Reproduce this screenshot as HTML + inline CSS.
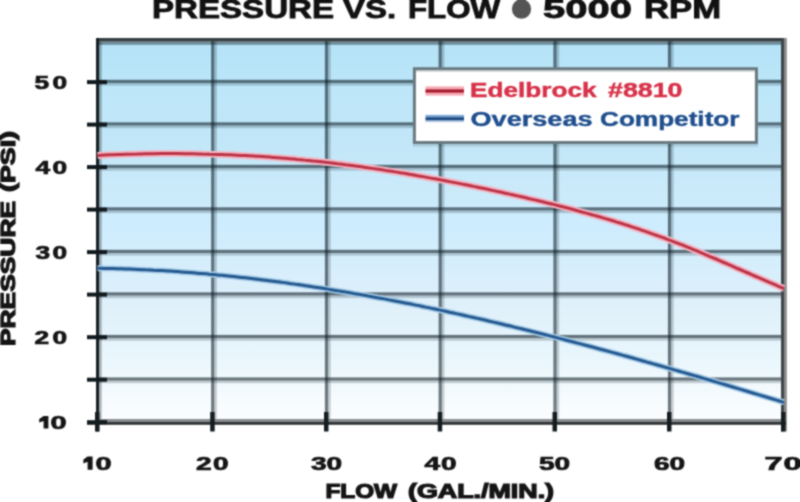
<!DOCTYPE html>
<html><head><meta charset="utf-8">
<style>
html,body{margin:0;padding:0;background:#fff;}
body{width:800px;height:502px;overflow:hidden;}
svg{display:block;}
text{font-family:"Liberation Sans",sans-serif;font-weight:bold;}
</style></head>
<body>
<svg width="800" height="502" viewBox="0 0 800 502">
<defs>
<filter id="bl" x="0" y="0" width="800" height="502" filterUnits="userSpaceOnUse" color-interpolation-filters="sRGB"><feConvolveMatrix order="3" kernelMatrix="1 2 1 2 6 2 1 2 1" divisor="18" edgeMode="duplicate"/></filter>
<linearGradient id="bg" x1="0" y1="42" x2="0" y2="419" gradientUnits="userSpaceOnUse"><stop offset="0.000" stop-color="#b4e2f7"/><stop offset="0.021" stop-color="#b6e3f8"/><stop offset="0.149" stop-color="#bee7f9"/><stop offset="0.247" stop-color="#c0e6f7"/><stop offset="0.382" stop-color="#caeafa"/><stop offset="0.485" stop-color="#cdecfd"/><stop offset="0.592" stop-color="#d6eefc"/><stop offset="0.698" stop-color="#dff0fa"/><stop offset="0.830" stop-color="#e8f6fc"/><stop offset="0.950" stop-color="#f6fbfe"/><stop offset="1.000" stop-color="#fafdff"/></linearGradient>
</defs>
<g filter="url(#bl)">
<rect width="800" height="502" fill="#fff"/>
<rect x="96" y="42" width="690" height="377" fill="url(#bg)"/>
<rect x="211.1" y="38" width="3.2" height="381" fill="#0a1a22" fill-opacity="0.58"/><rect x="214.3" y="38" width="2.6" height="381" fill="#0a1a22" fill-opacity="0.2"/><rect x="324.9" y="38" width="3.2" height="381" fill="#0a1a22" fill-opacity="0.58"/><rect x="328.1" y="38" width="2.6" height="381" fill="#0a1a22" fill-opacity="0.2"/><rect x="438.6" y="38" width="3.2" height="381" fill="#0a1a22" fill-opacity="0.58"/><rect x="441.8" y="38" width="2.6" height="381" fill="#0a1a22" fill-opacity="0.2"/><rect x="553.4" y="38" width="3.2" height="381" fill="#0a1a22" fill-opacity="0.58"/><rect x="556.6" y="38" width="2.6" height="381" fill="#0a1a22" fill-opacity="0.2"/><rect x="667.9" y="38" width="3.2" height="381" fill="#0a1a22" fill-opacity="0.58"/><rect x="671.1" y="38" width="2.6" height="381" fill="#0a1a22" fill-opacity="0.2"/><rect x="96" y="79.8" width="690" height="3.2" fill="#0a1a22" fill-opacity="0.58"/><rect x="96" y="83.0" width="690" height="2.6" fill="#0a1a22" fill-opacity="0.2"/><rect x="96" y="122.3" width="690" height="3.2" fill="#0a1a22" fill-opacity="0.58"/><rect x="96" y="125.5" width="690" height="2.6" fill="#0a1a22" fill-opacity="0.2"/><rect x="96" y="164.8" width="690" height="3.2" fill="#0a1a22" fill-opacity="0.58"/><rect x="96" y="168.0" width="690" height="2.6" fill="#0a1a22" fill-opacity="0.2"/><rect x="96" y="207.3" width="690" height="3.2" fill="#0a1a22" fill-opacity="0.58"/><rect x="96" y="210.5" width="690" height="2.6" fill="#0a1a22" fill-opacity="0.2"/><rect x="96" y="249.8" width="690" height="3.2" fill="#0a1a22" fill-opacity="0.58"/><rect x="96" y="253.0" width="690" height="2.6" fill="#0a1a22" fill-opacity="0.2"/><rect x="96" y="292.3" width="690" height="3.2" fill="#0a1a22" fill-opacity="0.58"/><rect x="96" y="295.5" width="690" height="2.6" fill="#0a1a22" fill-opacity="0.2"/><rect x="96" y="334.9" width="690" height="3.2" fill="#0a1a22" fill-opacity="0.58"/><rect x="96" y="338.1" width="690" height="2.6" fill="#0a1a22" fill-opacity="0.2"/><rect x="96" y="377.4" width="690" height="3.2" fill="#0a1a22" fill-opacity="0.58"/><rect x="96" y="380.6" width="690" height="2.6" fill="#0a1a22" fill-opacity="0.2"/>
<rect x="96" y="38" width="690" height="3.6" fill="#363f43"/>
<rect x="96" y="41.6" width="690" height="3.2" fill="#0a1a22" fill-opacity="0.42"/>
<rect x="96" y="38" width="3.2" height="393.5" fill="#182226"/>
<rect x="99.2" y="42" width="2.6" height="377" fill="#000" fill-opacity="0.25"/>
<rect x="781" y="38" width="3" height="393.5" fill="#40474a"/>
<rect x="784" y="38" width="2.8" height="393.5" fill="#8a8a8b"/>
<rect x="96" y="419" width="690" height="2.8" fill="#8a8c8d"/>
<rect x="87" y="421.8" width="699" height="3" fill="#303436"/>
<rect x="87" y="80.1" width="20" height="4" fill="#111a1e"/><rect x="87" y="122.6" width="20" height="4" fill="#111a1e"/><rect x="87" y="165.1" width="20" height="4" fill="#111a1e"/><rect x="87" y="207.6" width="20" height="4" fill="#111a1e"/><rect x="87" y="250.1" width="20" height="4" fill="#111a1e"/><rect x="87" y="292.6" width="20" height="4" fill="#111a1e"/><rect x="87" y="335.2" width="20" height="4" fill="#111a1e"/><rect x="87" y="377.7" width="20" height="4" fill="#111a1e"/><rect x="87" y="420.2" width="20" height="4" fill="#111a1e"/><rect x="95.0" y="412" width="4.5" height="19.5" fill="#151d20"/><rect x="210.2" y="412" width="4.5" height="19.5" fill="#151d20"/><rect x="324.0" y="412" width="4.5" height="19.5" fill="#151d20"/><rect x="437.7" y="412" width="4.5" height="19.5" fill="#151d20"/><rect x="552.5" y="412" width="4.5" height="19.5" fill="#151d20"/><rect x="667.0" y="412" width="4.5" height="19.5" fill="#151d20"/><rect x="781.0" y="412" width="4.5" height="19.5" fill="#151d20"/>
<path d="M97.5 155.4 C98.8 155.3 102.8 155.1 105.5 155.0 C108.2 154.9 110.8 154.8 113.5 154.7 C116.2 154.6 118.8 154.5 121.5 154.4 C124.2 154.3 126.8 154.3 129.5 154.2 C132.2 154.1 134.8 154.0 137.5 154.0 C140.2 153.9 142.8 153.9 145.5 153.8 C148.2 153.8 150.8 153.7 153.5 153.7 C156.2 153.7 158.8 153.7 161.5 153.6 C164.2 153.6 166.8 153.6 169.5 153.6 C172.2 153.6 174.8 153.6 177.5 153.6 C180.2 153.7 182.8 153.7 185.5 153.7 C188.2 153.7 190.8 153.8 193.5 153.8 C196.2 153.9 198.8 153.9 201.5 154.0 C204.2 154.0 206.8 154.1 209.5 154.2 C212.2 154.2 214.8 154.3 217.5 154.4 C220.2 154.5 222.8 154.6 225.5 154.7 C228.2 154.8 230.8 154.9 233.5 155.0 C236.2 155.2 238.8 155.3 241.5 155.4 C244.2 155.5 246.8 155.7 249.5 155.8 C252.2 156.0 254.8 156.1 257.5 156.3 C260.2 156.5 262.8 156.7 265.5 156.8 C268.2 157.0 270.8 157.2 273.5 157.4 C276.2 157.6 278.8 157.8 281.5 158.0 C284.2 158.2 286.8 158.5 289.5 158.7 C292.2 158.9 294.8 159.1 297.5 159.4 C300.2 159.6 302.8 159.9 305.5 160.2 C308.2 160.4 310.8 160.7 313.5 161.0 C316.2 161.2 318.8 161.5 321.5 161.8 C324.2 162.1 326.8 162.4 329.5 162.7 C332.2 163.0 334.8 163.3 337.5 163.7 C340.2 164.0 342.8 164.3 345.5 164.7 C348.2 165.0 350.8 165.4 353.5 165.7 C356.2 166.1 358.8 166.4 361.5 166.8 C364.2 167.2 366.8 167.6 369.5 168.0 C372.2 168.3 374.8 168.7 377.5 169.1 C380.2 169.5 382.8 169.9 385.5 170.4 C388.2 170.8 390.8 171.2 393.5 171.6 C396.2 172.1 398.8 172.5 401.5 172.9 C404.2 173.4 406.8 173.8 409.5 174.3 C412.2 174.7 414.8 175.2 417.5 175.7 C420.2 176.1 422.8 176.6 425.5 177.1 C428.2 177.6 430.8 178.1 433.5 178.6 C436.2 179.0 438.8 179.5 441.5 180.0 C444.2 180.6 446.8 181.1 449.5 181.6 C452.2 182.1 454.8 182.6 457.5 183.1 C460.2 183.7 462.8 184.2 465.5 184.7 C468.2 185.3 470.8 185.8 473.5 186.4 C476.2 186.9 478.8 187.5 481.5 188.0 C484.2 188.6 486.8 189.2 489.5 189.7 C492.2 190.3 494.8 190.9 497.5 191.5 C500.2 192.0 502.8 192.6 505.5 193.2 C508.2 193.8 510.8 194.4 513.5 195.0 C516.2 195.6 518.8 196.2 521.5 196.8 C524.2 197.4 526.8 198.0 529.5 198.7 C532.2 199.3 534.8 199.9 537.5 200.5 C540.2 201.2 542.8 201.8 545.5 202.5 C548.2 203.1 550.8 203.8 553.5 204.4 C556.2 205.1 558.8 205.8 561.5 206.5 C564.2 207.2 566.8 207.8 569.5 208.5 C572.2 209.3 574.8 210.0 577.5 210.7 C580.2 211.4 582.8 212.1 585.5 212.9 C588.2 213.6 590.8 214.4 593.5 215.1 C596.2 215.9 598.8 216.6 601.5 217.4 C604.2 218.2 606.8 219.0 609.5 219.8 C612.2 220.6 614.8 221.4 617.5 222.3 C620.2 223.1 622.8 223.9 625.5 224.8 C628.2 225.6 630.8 226.5 633.5 227.4 C636.2 228.3 638.8 229.1 641.5 230.1 C644.2 231.0 646.8 231.9 649.5 232.8 C652.2 233.7 654.8 234.7 657.5 235.7 C660.2 236.6 662.8 237.6 665.5 238.6 C668.2 239.6 670.8 240.6 673.5 241.6 C676.2 242.6 678.8 243.7 681.5 244.7 C684.2 245.8 686.8 246.9 689.5 247.9 C692.2 249.0 694.8 250.1 697.5 251.2 C700.2 252.3 702.8 253.5 705.5 254.6 C708.2 255.7 710.8 256.9 713.5 258.0 C716.2 259.1 718.8 260.3 721.5 261.5 C724.2 262.6 726.8 263.8 729.5 264.9 C732.2 266.1 734.8 267.3 737.5 268.5 C740.2 269.6 742.8 270.8 745.5 272.0 C748.2 273.1 750.8 274.3 753.5 275.5 C756.2 276.6 758.8 277.8 761.5 278.9 C764.2 280.1 766.8 281.2 769.5 282.4 C772.2 283.5 775.1 284.8 777.5 285.8 C779.9 286.8 782.9 288.1 784.0 288.5" fill="none" stroke="#f4b4c2" stroke-width="6.8"/>
<path d="M97.5 155.4 C98.8 155.3 102.8 155.1 105.5 155.0 C108.2 154.9 110.8 154.8 113.5 154.7 C116.2 154.6 118.8 154.5 121.5 154.4 C124.2 154.3 126.8 154.3 129.5 154.2 C132.2 154.1 134.8 154.0 137.5 154.0 C140.2 153.9 142.8 153.9 145.5 153.8 C148.2 153.8 150.8 153.7 153.5 153.7 C156.2 153.7 158.8 153.7 161.5 153.6 C164.2 153.6 166.8 153.6 169.5 153.6 C172.2 153.6 174.8 153.6 177.5 153.6 C180.2 153.7 182.8 153.7 185.5 153.7 C188.2 153.7 190.8 153.8 193.5 153.8 C196.2 153.9 198.8 153.9 201.5 154.0 C204.2 154.0 206.8 154.1 209.5 154.2 C212.2 154.2 214.8 154.3 217.5 154.4 C220.2 154.5 222.8 154.6 225.5 154.7 C228.2 154.8 230.8 154.9 233.5 155.0 C236.2 155.2 238.8 155.3 241.5 155.4 C244.2 155.5 246.8 155.7 249.5 155.8 C252.2 156.0 254.8 156.1 257.5 156.3 C260.2 156.5 262.8 156.7 265.5 156.8 C268.2 157.0 270.8 157.2 273.5 157.4 C276.2 157.6 278.8 157.8 281.5 158.0 C284.2 158.2 286.8 158.5 289.5 158.7 C292.2 158.9 294.8 159.1 297.5 159.4 C300.2 159.6 302.8 159.9 305.5 160.2 C308.2 160.4 310.8 160.7 313.5 161.0 C316.2 161.2 318.8 161.5 321.5 161.8 C324.2 162.1 326.8 162.4 329.5 162.7 C332.2 163.0 334.8 163.3 337.5 163.7 C340.2 164.0 342.8 164.3 345.5 164.7 C348.2 165.0 350.8 165.4 353.5 165.7 C356.2 166.1 358.8 166.4 361.5 166.8 C364.2 167.2 366.8 167.6 369.5 168.0 C372.2 168.3 374.8 168.7 377.5 169.1 C380.2 169.5 382.8 169.9 385.5 170.4 C388.2 170.8 390.8 171.2 393.5 171.6 C396.2 172.1 398.8 172.5 401.5 172.9 C404.2 173.4 406.8 173.8 409.5 174.3 C412.2 174.7 414.8 175.2 417.5 175.7 C420.2 176.1 422.8 176.6 425.5 177.1 C428.2 177.6 430.8 178.1 433.5 178.6 C436.2 179.0 438.8 179.5 441.5 180.0 C444.2 180.6 446.8 181.1 449.5 181.6 C452.2 182.1 454.8 182.6 457.5 183.1 C460.2 183.7 462.8 184.2 465.5 184.7 C468.2 185.3 470.8 185.8 473.5 186.4 C476.2 186.9 478.8 187.5 481.5 188.0 C484.2 188.6 486.8 189.2 489.5 189.7 C492.2 190.3 494.8 190.9 497.5 191.5 C500.2 192.0 502.8 192.6 505.5 193.2 C508.2 193.8 510.8 194.4 513.5 195.0 C516.2 195.6 518.8 196.2 521.5 196.8 C524.2 197.4 526.8 198.0 529.5 198.7 C532.2 199.3 534.8 199.9 537.5 200.5 C540.2 201.2 542.8 201.8 545.5 202.5 C548.2 203.1 550.8 203.8 553.5 204.4 C556.2 205.1 558.8 205.8 561.5 206.5 C564.2 207.2 566.8 207.8 569.5 208.5 C572.2 209.3 574.8 210.0 577.5 210.7 C580.2 211.4 582.8 212.1 585.5 212.9 C588.2 213.6 590.8 214.4 593.5 215.1 C596.2 215.9 598.8 216.6 601.5 217.4 C604.2 218.2 606.8 219.0 609.5 219.8 C612.2 220.6 614.8 221.4 617.5 222.3 C620.2 223.1 622.8 223.9 625.5 224.8 C628.2 225.6 630.8 226.5 633.5 227.4 C636.2 228.3 638.8 229.1 641.5 230.1 C644.2 231.0 646.8 231.9 649.5 232.8 C652.2 233.7 654.8 234.7 657.5 235.7 C660.2 236.6 662.8 237.6 665.5 238.6 C668.2 239.6 670.8 240.6 673.5 241.6 C676.2 242.6 678.8 243.7 681.5 244.7 C684.2 245.8 686.8 246.9 689.5 247.9 C692.2 249.0 694.8 250.1 697.5 251.2 C700.2 252.3 702.8 253.5 705.5 254.6 C708.2 255.7 710.8 256.9 713.5 258.0 C716.2 259.1 718.8 260.3 721.5 261.5 C724.2 262.6 726.8 263.8 729.5 264.9 C732.2 266.1 734.8 267.3 737.5 268.5 C740.2 269.6 742.8 270.8 745.5 272.0 C748.2 273.1 750.8 274.3 753.5 275.5 C756.2 276.6 758.8 277.8 761.5 278.9 C764.2 280.1 766.8 281.2 769.5 282.4 C772.2 283.5 775.1 284.8 777.5 285.8 C779.9 286.8 782.9 288.1 784.0 288.5" fill="none" stroke="#bc3448" stroke-width="3.0"/>
<path d="M97.5 268.3 C98.8 268.3 102.8 268.4 105.5 268.4 C108.2 268.5 110.8 268.5 113.5 268.6 C116.2 268.7 118.8 268.7 121.5 268.8 C124.2 268.9 126.8 269.0 129.5 269.1 C132.2 269.2 134.8 269.3 137.5 269.4 C140.2 269.5 142.8 269.6 145.5 269.8 C148.2 269.9 150.8 270.0 153.5 270.2 C156.2 270.3 158.8 270.5 161.5 270.6 C164.2 270.8 166.8 270.9 169.5 271.1 C172.2 271.3 174.8 271.4 177.5 271.6 C180.2 271.8 182.8 272.0 185.5 272.2 C188.2 272.4 190.8 272.6 193.5 272.8 C196.2 273.0 198.8 273.3 201.5 273.5 C204.2 273.7 206.8 273.9 209.5 274.2 C212.2 274.4 214.8 274.7 217.5 274.9 C220.2 275.2 222.8 275.4 225.5 275.7 C228.2 276.0 230.8 276.3 233.5 276.5 C236.2 276.8 238.8 277.1 241.5 277.4 C244.2 277.7 246.8 278.0 249.5 278.3 C252.2 278.6 254.8 278.9 257.5 279.2 C260.2 279.6 262.8 279.9 265.5 280.2 C268.2 280.6 270.8 280.9 273.5 281.2 C276.2 281.6 278.8 281.9 281.5 282.3 C284.2 282.6 286.8 283.0 289.5 283.4 C292.2 283.7 294.8 284.1 297.5 284.5 C300.2 284.9 302.8 285.3 305.5 285.7 C308.2 286.1 310.8 286.5 313.5 286.9 C316.2 287.3 318.8 287.7 321.5 288.1 C324.2 288.5 326.8 288.9 329.5 289.4 C332.2 289.8 334.8 290.2 337.5 290.7 C340.2 291.1 342.8 291.5 345.5 292.0 C348.2 292.4 350.8 292.9 353.5 293.4 C356.2 293.8 358.8 294.3 361.5 294.8 C364.2 295.2 366.8 295.7 369.5 296.2 C372.2 296.7 374.8 297.2 377.5 297.7 C380.2 298.1 382.8 298.6 385.5 299.1 C388.2 299.7 390.8 300.2 393.5 300.7 C396.2 301.2 398.8 301.7 401.5 302.2 C404.2 302.8 406.8 303.3 409.5 303.8 C412.2 304.3 414.8 304.9 417.5 305.4 C420.2 306.0 422.8 306.5 425.5 307.1 C428.2 307.6 430.8 308.2 433.5 308.7 C436.2 309.3 438.8 309.9 441.5 310.4 C444.2 311.0 446.8 311.6 449.5 312.2 C452.2 312.7 454.8 313.3 457.5 313.9 C460.2 314.5 462.8 315.1 465.5 315.7 C468.2 316.3 470.8 316.9 473.5 317.5 C476.2 318.1 478.8 318.7 481.5 319.3 C484.2 319.9 486.8 320.5 489.5 321.2 C492.2 321.8 494.8 322.4 497.5 323.0 C500.2 323.7 502.8 324.3 505.5 325.0 C508.2 325.6 510.8 326.2 513.5 326.9 C516.2 327.5 518.8 328.2 521.5 328.8 C524.2 329.5 526.8 330.1 529.5 330.8 C532.2 331.5 534.8 332.1 537.5 332.8 C540.2 333.5 542.8 334.1 545.5 334.8 C548.2 335.5 550.8 336.2 553.5 336.8 C556.2 337.5 558.8 338.2 561.5 338.9 C564.2 339.6 566.8 340.3 569.5 341.0 C572.2 341.7 574.8 342.4 577.5 343.1 C580.2 343.8 582.8 344.5 585.5 345.2 C588.2 345.9 590.8 346.6 593.5 347.3 C596.2 348.0 598.8 348.7 601.5 349.5 C604.2 350.2 606.8 350.9 609.5 351.6 C612.2 352.4 614.8 353.1 617.5 353.8 C620.2 354.5 622.8 355.3 625.5 356.0 C628.2 356.8 630.8 357.5 633.5 358.2 C636.2 359.0 638.8 359.7 641.5 360.5 C644.2 361.2 646.8 362.0 649.5 362.7 C652.2 363.5 654.8 364.2 657.5 365.0 C660.2 365.7 662.8 366.5 665.5 367.3 C668.2 368.0 670.8 368.8 673.5 369.6 C676.2 370.3 678.8 371.1 681.5 371.9 C684.2 372.6 686.8 373.4 689.5 374.2 C692.2 375.0 694.8 375.7 697.5 376.5 C700.2 377.3 702.8 378.1 705.5 378.9 C708.2 379.7 710.8 380.4 713.5 381.2 C716.2 382.0 718.8 382.8 721.5 383.6 C724.2 384.4 726.8 385.2 729.5 386.0 C732.2 386.8 734.8 387.6 737.5 388.4 C740.2 389.2 742.8 390.0 745.5 390.8 C748.2 391.6 750.8 392.4 753.5 393.2 C756.2 394.0 758.8 394.8 761.5 395.6 C764.2 396.4 766.8 397.2 769.5 398.0 C772.2 398.8 775.1 399.7 777.5 400.4 C779.9 401.2 782.9 402.1 784.0 402.4" fill="none" stroke="#a8cce8" stroke-width="6"/>
<path d="M97.5 268.3 C98.8 268.3 102.8 268.4 105.5 268.4 C108.2 268.5 110.8 268.5 113.5 268.6 C116.2 268.7 118.8 268.7 121.5 268.8 C124.2 268.9 126.8 269.0 129.5 269.1 C132.2 269.2 134.8 269.3 137.5 269.4 C140.2 269.5 142.8 269.6 145.5 269.8 C148.2 269.9 150.8 270.0 153.5 270.2 C156.2 270.3 158.8 270.5 161.5 270.6 C164.2 270.8 166.8 270.9 169.5 271.1 C172.2 271.3 174.8 271.4 177.5 271.6 C180.2 271.8 182.8 272.0 185.5 272.2 C188.2 272.4 190.8 272.6 193.5 272.8 C196.2 273.0 198.8 273.3 201.5 273.5 C204.2 273.7 206.8 273.9 209.5 274.2 C212.2 274.4 214.8 274.7 217.5 274.9 C220.2 275.2 222.8 275.4 225.5 275.7 C228.2 276.0 230.8 276.3 233.5 276.5 C236.2 276.8 238.8 277.1 241.5 277.4 C244.2 277.7 246.8 278.0 249.5 278.3 C252.2 278.6 254.8 278.9 257.5 279.2 C260.2 279.6 262.8 279.9 265.5 280.2 C268.2 280.6 270.8 280.9 273.5 281.2 C276.2 281.6 278.8 281.9 281.5 282.3 C284.2 282.6 286.8 283.0 289.5 283.4 C292.2 283.7 294.8 284.1 297.5 284.5 C300.2 284.9 302.8 285.3 305.5 285.7 C308.2 286.1 310.8 286.5 313.5 286.9 C316.2 287.3 318.8 287.7 321.5 288.1 C324.2 288.5 326.8 288.9 329.5 289.4 C332.2 289.8 334.8 290.2 337.5 290.7 C340.2 291.1 342.8 291.5 345.5 292.0 C348.2 292.4 350.8 292.9 353.5 293.4 C356.2 293.8 358.8 294.3 361.5 294.8 C364.2 295.2 366.8 295.7 369.5 296.2 C372.2 296.7 374.8 297.2 377.5 297.7 C380.2 298.1 382.8 298.6 385.5 299.1 C388.2 299.7 390.8 300.2 393.5 300.7 C396.2 301.2 398.8 301.7 401.5 302.2 C404.2 302.8 406.8 303.3 409.5 303.8 C412.2 304.3 414.8 304.9 417.5 305.4 C420.2 306.0 422.8 306.5 425.5 307.1 C428.2 307.6 430.8 308.2 433.5 308.7 C436.2 309.3 438.8 309.9 441.5 310.4 C444.2 311.0 446.8 311.6 449.5 312.2 C452.2 312.7 454.8 313.3 457.5 313.9 C460.2 314.5 462.8 315.1 465.5 315.7 C468.2 316.3 470.8 316.9 473.5 317.5 C476.2 318.1 478.8 318.7 481.5 319.3 C484.2 319.9 486.8 320.5 489.5 321.2 C492.2 321.8 494.8 322.4 497.5 323.0 C500.2 323.7 502.8 324.3 505.5 325.0 C508.2 325.6 510.8 326.2 513.5 326.9 C516.2 327.5 518.8 328.2 521.5 328.8 C524.2 329.5 526.8 330.1 529.5 330.8 C532.2 331.5 534.8 332.1 537.5 332.8 C540.2 333.5 542.8 334.1 545.5 334.8 C548.2 335.5 550.8 336.2 553.5 336.8 C556.2 337.5 558.8 338.2 561.5 338.9 C564.2 339.6 566.8 340.3 569.5 341.0 C572.2 341.7 574.8 342.4 577.5 343.1 C580.2 343.8 582.8 344.5 585.5 345.2 C588.2 345.9 590.8 346.6 593.5 347.3 C596.2 348.0 598.8 348.7 601.5 349.5 C604.2 350.2 606.8 350.9 609.5 351.6 C612.2 352.4 614.8 353.1 617.5 353.8 C620.2 354.5 622.8 355.3 625.5 356.0 C628.2 356.8 630.8 357.5 633.5 358.2 C636.2 359.0 638.8 359.7 641.5 360.5 C644.2 361.2 646.8 362.0 649.5 362.7 C652.2 363.5 654.8 364.2 657.5 365.0 C660.2 365.7 662.8 366.5 665.5 367.3 C668.2 368.0 670.8 368.8 673.5 369.6 C676.2 370.3 678.8 371.1 681.5 371.9 C684.2 372.6 686.8 373.4 689.5 374.2 C692.2 375.0 694.8 375.7 697.5 376.5 C700.2 377.3 702.8 378.1 705.5 378.9 C708.2 379.7 710.8 380.4 713.5 381.2 C716.2 382.0 718.8 382.8 721.5 383.6 C724.2 384.4 726.8 385.2 729.5 386.0 C732.2 386.8 734.8 387.6 737.5 388.4 C740.2 389.2 742.8 390.0 745.5 390.8 C748.2 391.6 750.8 392.4 753.5 393.2 C756.2 394.0 758.8 394.8 761.5 395.6 C764.2 396.4 766.8 397.2 769.5 398.0 C772.2 398.8 775.1 399.7 777.5 400.4 C779.9 401.2 782.9 402.1 784.0 402.4" fill="none" stroke="#255a90" stroke-width="3"/>
<rect x="414.4" y="68.7" width="342" height="73.8" fill="#fff" stroke="#6a7a80" stroke-width="3"/><rect x="412.9" y="144" width="345" height="2.6" fill="#0a1a22" fill-opacity="0.12"/><rect x="415.9" y="70.2" width="339" height="1.8" fill="#0a1a22" fill-opacity="0.16"/>
<rect x="425.5" y="86.4" width="38.5" height="9.2" fill="#f6aab6"/><rect x="425.5" y="89.4" width="38.5" height="3.2" fill="#a81c2c"/>
<rect x="425.5" y="114.9" width="38.5" height="2.4" fill="#7aa6d6"/><rect x="425.5" y="117.2" width="38.5" height="3.4" fill="#1c4a82"/><rect x="425.5" y="120.6" width="38.5" height="1.6" fill="#b4cce6"/>
<g fill="#d8324a" stroke="#d42a40" stroke-width="0.4" font-size="19.5"><text x="470.0" y="96.8" textLength="126.51" lengthAdjust="spacingAndGlyphs">Edelbrock</text><text x="608.0" y="96.8" textLength="74.53" lengthAdjust="spacingAndGlyphs">#8810</text></g>
<g fill="#1f4f8e" stroke="#1f4f8e" stroke-width="0.4" font-size="19.5"><text x="470.5" y="125.8" textLength="122.04" lengthAdjust="spacingAndGlyphs">Overseas</text><text x="600.0" y="125.8" textLength="139.51" lengthAdjust="spacingAndGlyphs">Competitor</text></g>
<g fill="#111" stroke="#111" stroke-width="0.8" font-size="25"><text x="152.0" y="18.3" textLength="182.03" lengthAdjust="spacingAndGlyphs">PRESSURE</text><text x="343.0" y="18.3" textLength="53.05" lengthAdjust="spacingAndGlyphs">VS.</text><text x="408.0" y="18.3" textLength="92.03" lengthAdjust="spacingAndGlyphs">FLOW</text><text x="543.0" y="18.3" textLength="89.03" lengthAdjust="spacingAndGlyphs">5000</text><text x="644.0" y="18.3" textLength="77.13" lengthAdjust="spacingAndGlyphs">RPM</text></g>
<ellipse cx="521.5" cy="9" rx="9.6" ry="9.8" fill="#555"/>
<g fill="#151515" font-size="17.5" stroke="#151515" stroke-width="0.7">
<text transform="translate(34.5,88.77) scale(1.5,1)" textLength="21.71" lengthAdjust="spacing">50</text><text transform="translate(35.5,173.8) scale(1.5,1)" textLength="21.01" lengthAdjust="spacing">40</text><text transform="translate(35.5,258.83) scale(1.5,1)" textLength="21.01" lengthAdjust="spacing">30</text><text transform="translate(34.5,343.85) scale(1.5,1)" textLength="21.71" lengthAdjust="spacing">20</text><text x="50.5" y="428.88" textLength="16.07" lengthAdjust="spacingAndGlyphs">0</text>
<text transform="translate(196.0,469.6) scale(1.6,1)" textLength="20.36" lengthAdjust="spacing">20</text><text transform="translate(311.0,469.6) scale(1.6,1)" textLength="19.38" lengthAdjust="spacing">30</text><text transform="translate(424.5,469.6) scale(1.6,1)" textLength="20.04" lengthAdjust="spacing">40</text><text transform="translate(539.0,469.6) scale(1.6,1)" textLength="19.39" lengthAdjust="spacing">50</text><text transform="translate(654.0,469.6) scale(1.6,1)" textLength="19.38" lengthAdjust="spacing">60</text><text transform="translate(764.5,469.6) scale(1.85,1)" textLength="20.05" lengthAdjust="spacing">70</text><text x="95.5" y="469.6" textLength="16.07" lengthAdjust="spacingAndGlyphs">0</text>
</g>
<path d="M43.6 415.9 H48.4 V428.5 H43.6 Z M39.2 419.1 L43.6 415.9 V420.9 L39.2 422.5 Z" fill="#151515"/>
<path d="M87.6 456.6 H92.6 V469.8 H87.6 Z M83.4 459.6 L87.6 456.6 V461.8 L83.4 463.4 Z" fill="#151515"/>
<g fill="#151515" font-size="19.5" stroke="#151515" stroke-width="1.2"><text x="325.5" y="497.5" textLength="71.51" lengthAdjust="spacingAndGlyphs">FLOW</text><text x="408.0" y="497.5" textLength="146.03" lengthAdjust="spacingAndGlyphs">(GAL./MIN.)</text></g>
<g fill="#151515" font-size="20.5" stroke="#151515" stroke-width="1.2" transform="translate(14.8,445) rotate(-90)"><text x="99.0" y="0" textLength="145.01" lengthAdjust="spacingAndGlyphs">PRESSURE</text><text x="253.0" y="0" textLength="61.02" lengthAdjust="spacingAndGlyphs">(PSI)</text></g>
</g>
</svg>
</body></html>
